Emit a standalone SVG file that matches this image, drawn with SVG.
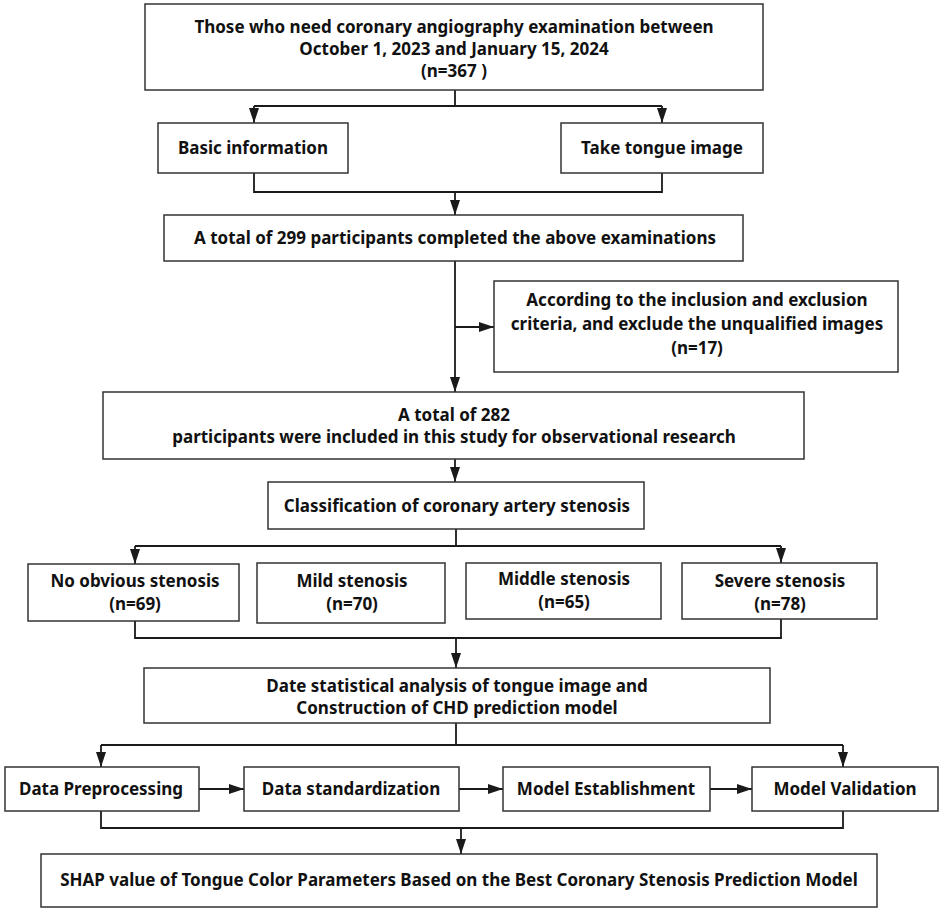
<svg xmlns="http://www.w3.org/2000/svg" width="945" height="912" viewBox="0 0 945 912">
<defs>
<marker id="ah" markerWidth="15" markerHeight="12" refX="15" refY="5" orient="auto" markerUnits="userSpaceOnUse">
<path d="M0,0 L15,5 L0,10 Z" fill="#1a1a1a"/>
</marker>
<style>
.box{fill:#fff;stroke:#333;stroke-width:1.5}
.t{font-family:"Noto Sans","Liberation Sans",sans-serif;font-weight:bold;font-size:17px;fill:#111;text-anchor:middle}
.c{fill:none;stroke:#1a1a1a;stroke-width:1.8}
</style>
</defs>
<rect width="945" height="912" fill="#fff"/>
<g id="connectors">
<path class="c" d="M455,90 V106 M254,106 H662"/>
<path class="c" d="M254,106 V123" marker-end="url(#ah)"/>
<path class="c" d="M662,106 V123" marker-end="url(#ah)"/>
<path class="c" d="M254,173 V192 H662 V173"/>
<path class="c" d="M455,192 V215" marker-end="url(#ah)"/>
<path class="c" d="M455,261 V392" marker-end="url(#ah)"/>
<path class="c" d="M455,327 H494" marker-end="url(#ah)"/>
<path class="c" d="M455,459 V482" marker-end="url(#ah)"/>
<path class="c" d="M456,529 V546 M135,546 H781"/>
<path class="c" d="M135,546 V564" marker-end="url(#ah)"/>
<path class="c" d="M781,546 V563" marker-end="url(#ah)"/>
<path class="c" d="M135,621 V638 H781 V619"/>
<path class="c" d="M456,638 V668" marker-end="url(#ah)"/>
<path class="c" d="M456,723 V745 M101,745 H843"/>
<path class="c" d="M101,745 V767" marker-end="url(#ah)"/>
<path class="c" d="M843,745 V767" marker-end="url(#ah)"/>
<path class="c" d="M199,789 H244" marker-end="url(#ah)"/>
<path class="c" d="M459,789 H503" marker-end="url(#ah)"/>
<path class="c" d="M710,789 H752" marker-end="url(#ah)"/>
<path class="c" d="M101,811 V828 H843 V811"/>
<path class="c" d="M461,828 V854" marker-end="url(#ah)"/>
</g>
<g id="n1"><rect class="box" x="145" y="4" width="618" height="86"/>
<text class="t" x="454" y="33">Those who need coronary angiography examination between</text>
<text class="t" x="454" y="55">October 1, 2023 and January 15, 2024</text>
<text class="t" x="454" y="77">(n=367 )</text></g>
<g id="n2"><rect class="box" x="158" y="123" width="190" height="50"/>
<text class="t" x="253" y="154">Basic information</text></g>
<g id="n3"><rect class="box" x="561" y="123" width="202" height="50"/>
<text class="t" x="662" y="154">Take tongue image</text></g>
<g id="n4"><rect class="box" x="164" y="215" width="579" height="46"/>
<text class="t" x="455" y="244">A total of 299 participants completed the above examinations</text></g>
<g id="n5"><rect class="box" x="494" y="281" width="404" height="91"/>
<text class="t" x="697" y="306">According to the inclusion and exclusion</text>
<text class="t" x="697" y="330">criteria, and exclude the unqualified images</text>
<text class="t" x="697" y="354">(n=17)</text></g>
<g id="n6"><rect class="box" x="103" y="392" width="701" height="67"/>
<text class="t" x="454" y="421">A total of 282</text>
<text class="t" x="454" y="443">participants were included in this study for observational research</text></g>
<g id="n7"><rect class="box" x="268" y="482" width="376" height="47"/>
<text class="t" x="457" y="512">Classification of coronary artery stenosis</text></g>
<g id="n8"><rect class="box" x="28" y="564" width="211" height="57"/>
<text class="t" x="135" y="587">No obvious stenosis</text>
<text class="t" x="135" y="610">(n=69)</text></g>
<g id="n9"><rect class="box" x="257" y="563" width="188" height="60"/>
<text class="t" x="352" y="587">Mild stenosis</text>
<text class="t" x="352" y="610">(n=70)</text></g>
<g id="n10"><rect class="box" x="466" y="563" width="195" height="56"/>
<text class="t" x="564" y="585">Middle stenosis</text>
<text class="t" x="564" y="608">(n=65)</text></g>
<g id="n11"><rect class="box" x="682" y="563" width="195" height="56"/>
<text class="t" x="780" y="587">Severe stenosis</text>
<text class="t" x="780" y="610">(n=78)</text></g>
<g id="n12"><rect class="box" x="144" y="668" width="626" height="55"/>
<text class="t" x="457" y="692">Date statistical analysis of tongue image and</text>
<text class="t" x="457" y="714">Construction of  CHD prediction model</text></g>
<g id="n13"><rect class="box" x="5" y="767" width="194" height="44"/>
<text class="t" x="101" y="795">Data Preprocessing</text></g>
<g id="n14"><rect class="box" x="244" y="767" width="215" height="44"/>
<text class="t" x="351" y="795">Data standardization</text></g>
<g id="n15"><rect class="box" x="503" y="767" width="207" height="44"/>
<text class="t" x="606" y="795">Model Establishment</text></g>
<g id="n16"><rect class="box" x="752" y="767" width="186" height="44"/>
<text class="t" x="845" y="795">Model Validation</text></g>
<g id="n17"><rect class="box" x="41" y="854" width="836" height="53"/>
<text class="t" x="459" y="886">SHAP value of Tongue Color Parameters Based on the Best Coronary Stenosis Prediction Model</text></g>
</svg>
